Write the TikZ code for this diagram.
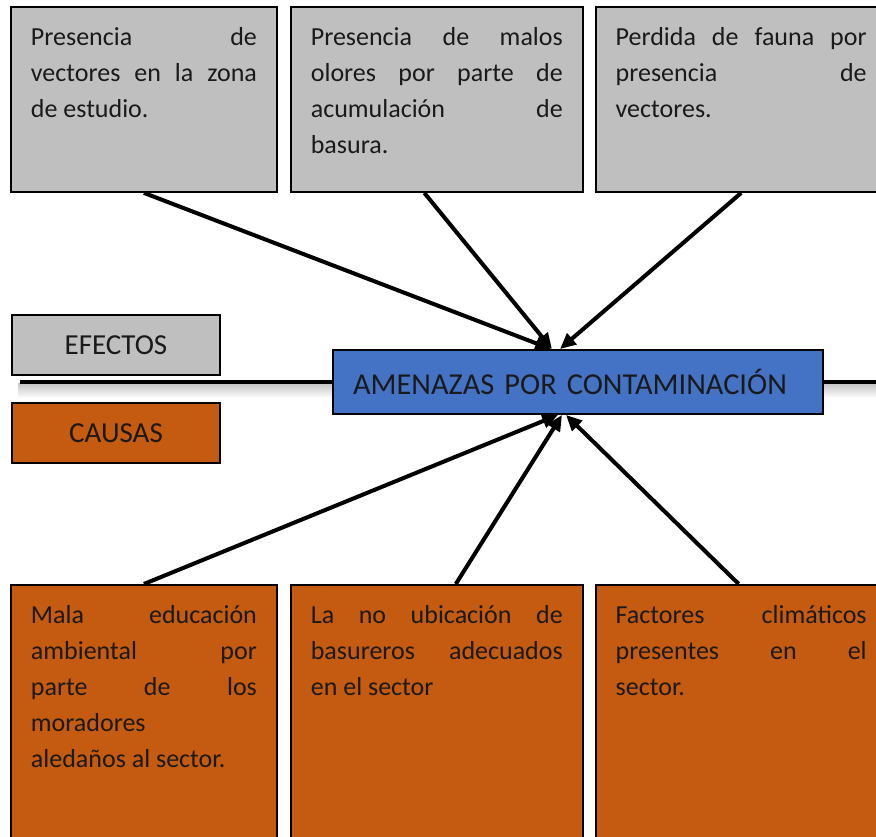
\documentclass[tikz,border=0pt]{standalone}
\usepackage{fontspec}
\setmainfont{Carlito}
\usetikzlibrary{
  arrows.meta,
  positioning,
  calc
}
\definecolor{colEfecto}{HTML}{BFBFBF}
\definecolor{colCausa} {HTML}{C55A11}
\definecolor{colCentro}{HTML}{4472C4}
\definecolor{colTexto} {HTML}{1A1A1A}
\tikzset{
  %% big text box (effects / causes)
  caja/.style={
    draw=black, line width=1.1pt,
    fill=#1,
    anchor=north west,
    inner xsep=0.4cm, inner ysep=0.4cm,
    text=colTexto,
    font=\fontsize{14.8}{20.5}\selectfont
  },
  caja/.default=colEfecto,
  %% small legend tag
  etiqueta/.style={
    draw=black, line width=1.1pt,
    fill=#1,
    minimum width=4.16cm, minimum height=1.2cm,
    inner sep=0pt, text=colTexto,
    font=\fontsize{16.5}{20}\selectfont
  },
  %% central problem box
  centro/.style={
    draw=black, line width=1.1pt,
    fill=colCentro,
    minimum width=9.8cm, minimum height=1.28cm,
    text width=9.0cm, align=left,
    inner xsep=0.4cm, text=colTexto,
    font=\fontsize{17.3}{21}\selectfont,
    execute at begin node={\hyphenpenalty=10000 }
  },
  %% arrows
  flecha/.style={-{Triangle[length=9pt,width=8pt]}, line width=2.3pt},
  espina/.style={line width=2.3pt}
}
\newcommand{\cajatxt}[3]{\parbox[t][#2][t]{#1}{\hyphenpenalty=10000 #3}}

\begin{document}
\begin{tikzpicture}[x=0.02cm, y=-0.02cm]
\useasboundingbox (0,0) rectangle (876,837);
\clip (0,0) rectangle (876,837);

% ════════════════════════════════════════════════════════════
% SPINE – horizontal line with soft shadow
% ════════════════════════════════════════════════════════════
\coordinate (espinaIzq) at (20,382);
\coordinate (espinaDer) at (876,382);
\fill[top color=black!22, bottom color=white] (18,384) rectangle (876,398);
\draw[espina] (espinaIzq) -- (espinaDer);

\node[centro] (amen) at (578,382) {AMENAZAS POR CONTAMINACIÓN};

% ════════════════════════════════════════════════════════════
% ROW 1 – EFECTOS
% ════════════════════════════════════════════════════════════
\node[caja=colEfecto] (ef1) at (10,6) {%
  \cajatxt{4.52cm}{2.9cm}{Presencia de\linebreak
  vectores en la zona\linebreak de estudio.}};

\node[caja=colEfecto, right=0.24cm of ef1.north east, anchor=north west] (ef2) {%
  \cajatxt{5.04cm}{2.9cm}{Presencia de malos\linebreak
  olores por parte de\linebreak acumulación de\linebreak basura.}};

\node[caja=colEfecto, right=0.22cm of ef2.north east, anchor=north west] (ef3) {%
  \cajatxt{5.02cm}{2.9cm}{Perdida de fauna por\linebreak
  presencia de\linebreak vectores.}};

% ════════════════════════════════════════════════════════════
% LEGEND TAGS
% ════════════════════════════════════════════════════════════
\node[etiqueta=colEfecto] (tagEf) at (116,345) {EFECTOS};
\node[etiqueta=colCausa]  (tagCa) at (116,433) {CAUSAS};

% ════════════════════════════════════════════════════════════
% ROW 2 – CAUSAS
% ════════════════════════════════════════════════════════════
\node[caja=colCausa] (ca1) at (10,584) {%
  \cajatxt{4.52cm}{4.6cm}{Mala educación\linebreak
  ambiental por\linebreak parte de los\linebreak
  moradores\linebreak aledaños al sector.}};

\node[caja=colCausa, right=0.24cm of ca1.north east, anchor=north west] (ca2) {%
  \cajatxt{5.04cm}{4.6cm}{La no ubicación de\linebreak
  basureros adecuados\linebreak en el sector}};

\node[caja=colCausa, right=0.22cm of ca2.north east, anchor=north west] (ca3) {%
  \cajatxt{5.02cm}{4.6cm}{Factores climáticos\linebreak
  presentes en el\linebreak sector.}};

% ════════════════════════════════════════════════════════════
% ARROWS – effects and causes into the problem
% ════════════════════════════════════════════════════════════
\draw[flecha] (ef1.south) -- ([xshift=-0.54cm]amen.north);
\draw[flecha] ([xshift=-0.25cm]ef2.south) -- ([xshift=-0.52cm]amen.north);
\draw[flecha] (ef3.south) -- ([xshift=-0.36cm]amen.north);

\draw[flecha] (ca1.north) -- ([xshift=-0.4cm]amen.south);
\draw[flecha] ([xshift=0.38cm]ca2.north) -- ([xshift=-0.32cm]amen.south);
\draw[flecha] ([xshift=-0.05cm]ca3.north) -- ([xshift=-0.24cm]amen.south);

\end{tikzpicture}
\end{document}
